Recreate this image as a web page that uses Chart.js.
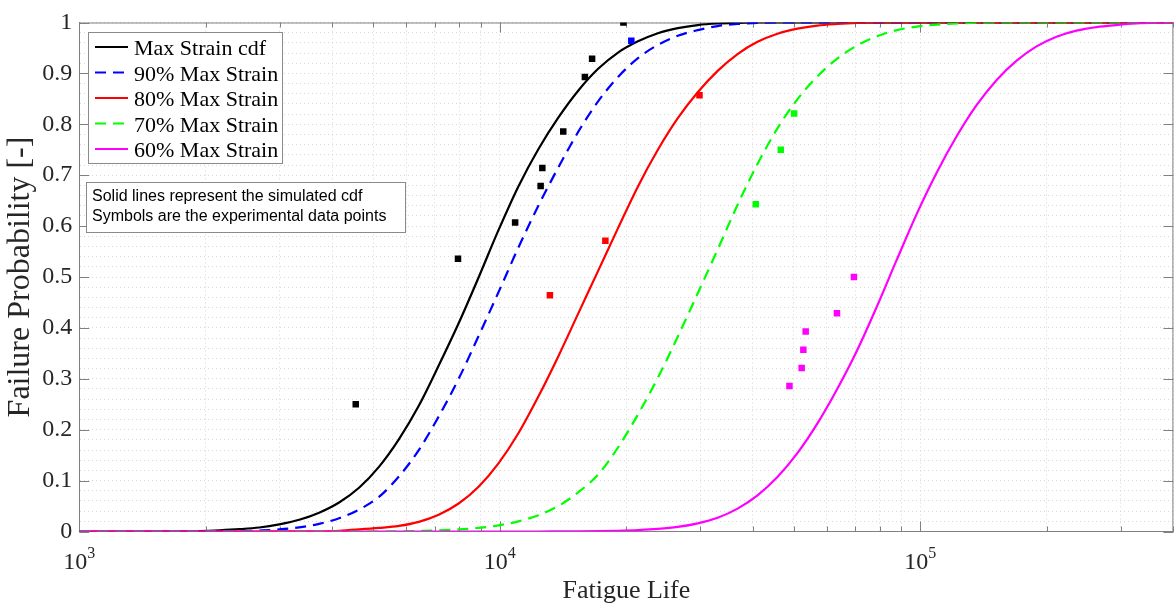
<!DOCTYPE html>
<html>
<head>
<meta charset="utf-8">
<script src="https://cdn.jsdelivr.net/npm/chart.js@4.4.1/dist/chart.umd.min.js"></script>
<style>
  html, body { margin: 0; padding: 0; background: #fff; overflow: hidden; }
  #wrap { width: 1178px; height: 607px; }
</style>
</head>
<body>
<div id="wrap"><canvas id="fatigueCdfChart" width="1178" height="607"></canvas></div>
<script>
// Fatigue life cdf curves + experimental points
const seriesNames = ['Max Strain cdf', '90% Max Strain', '80% Max Strain', '70% Max Strain', '60% Max Strain'];
const seriesColors = ['#000000', '#0000ff', '#ff0000', '#00ff00', '#ff00ff'];
const seriesDashed = [false, true, false, true, false];

// life values where the simulated curves were read
const lifeGrid = [1000,
  1733, 1932, 2155, 2403, 2680, 2990, 3334, 3719, 4148, 4627,
  5160, 5754, 6418, 7158, 7983, 8904, 9929, 11074, 12351, 13775,
  15363, 17135, 19110, 21313, 23770, 26511, 29567, 32976, 36778, 41019,
  45749, 51024, 56909, 63472, 70793, 78958, 88064, 98223, 109550, 122180,
  136270, 151990, 169520, 189070, 210870, 235190, 262320, 292570, 326310, 363940,
  400000];

// simulated cdf, one value per lifeGrid entry
const cdfMax = [0,
  0.0003, 0.0008, 0.0023, 0.0045, 0.0078, 0.014, 0.023, 0.037, 0.057, 0.086,
  0.127, 0.181, 0.247, 0.326, 0.409, 0.499, 0.592, 0.678, 0.751, 0.813,
  0.866, 0.909, 0.941, 0.963, 0.979, 0.989, 0.995, 0.998, 0.9993, 1,
  1, 1, 1, 1, 1, 1, 1, 1, 1, 1,
  1, 1, 1, 1, 1, 1, 1, 1, 1, 1,
  1];
const cdf90 = [0,
  0, 0.0001, 0.0002, 0.0007, 0.002, 0.004, 0.008, 0.015, 0.026, 0.043,
  0.068, 0.108, 0.160, 0.226, 0.300, 0.384, 0.470, 0.558, 0.640, 0.715,
  0.785, 0.845, 0.893, 0.930, 0.956, 0.974, 0.985, 0.993, 0.997, 0.999,
  1, 1, 1, 1, 1, 1, 1, 1, 1, 1,
  1, 1, 1, 1, 1, 1, 1, 1, 1, 1,
  1];
const cdf80 = [0,
  0, 0, 0, 0, 0, 0.0001, 0.0002, 0.0005, 0.0015, 0.004,
  0.007, 0.011, 0.019, 0.033, 0.055, 0.088, 0.134, 0.193, 0.265, 0.344,
  0.428, 0.512, 0.596, 0.678, 0.750, 0.812, 0.863, 0.905, 0.938, 0.962,
  0.978, 0.988, 0.994, 0.997, 0.999, 1, 1, 1, 1, 1,
  1, 1, 1, 1, 1, 1, 1, 1, 1, 1,
  1];
const cdf70 = [0,
  0, 0, 0, 0, 0, 0, 0, 0, 0, 0,
  0, 0.0003, 0.001, 0.002, 0.004, 0.007, 0.012, 0.020, 0.032, 0.050,
  0.077, 0.112, 0.165, 0.230, 0.302, 0.383, 0.468, 0.554, 0.642, 0.722,
  0.792, 0.849, 0.894, 0.929, 0.955, 0.973, 0.985, 0.992, 0.996, 0.998,
  0.9995, 1, 1, 1, 1, 1, 1, 1, 1, 1,
  1];
const cdf60 = [0,
  0, 0, 0, 0, 0, 0, 0, 0, 0, 0,
  0, 0, 0, 0, 0, 0, 0, 0, 0, 0.0002,
  0.0004, 0.0008, 0.0015, 0.0028, 0.005, 0.009, 0.016, 0.027, 0.045, 0.071,
  0.107, 0.154, 0.212, 0.280, 0.356, 0.443, 0.535, 0.625, 0.706, 0.777,
  0.838, 0.887, 0.925, 0.953, 0.972, 0.984, 0.991, 0.995, 0.998, 0.9995,
  1];

// experimental data points
const expLife100 = [4544, 7955, 10877, 12508, 12625, 14157, 15937, 16580, 19680];
const expProb100 = [0.250, 0.536, 0.607, 0.679, 0.714, 0.786, 0.893, 0.929, 1.000];
const expLife90 = [20550];
const expProb90 = [0.964];
const expLife80 = [13160, 17830, 29850];
const expProb80 = [0.464, 0.571, 0.857];
const expLife70 = [40640, 46590, 50120];
const expProb70 = [0.643, 0.750, 0.821];
const expLife60 = [48860, 52240, 52720, 53400, 63380, 69550];
const expProb60 = [0.286, 0.321, 0.357, 0.393, 0.429, 0.500];

// axis ticks
const yTickLabels = ['0', '0.1', '0.2', '0.3', '0.4', '0.5', '0.6', '0.7', '0.8', '0.9', '1'];
const xTickDecades = [1e3, 1e4, 1e5];
const xTickExponents = ['3', '4', '5'];
const noteLines = ['Solid lines represent the simulated cdf', 'Symbols are the experimental data points'];

const serif = '"Liberation Serif", "Times New Roman", serif';
const sans = '"Liberation Sans", Arial, sans-serif';
const axisGray = '#808080';
const gridGray = '#d6d6d6';
const textGray = '#262626';

const toPoints = (xs, ys) => xs.map((v, i) => ({ x: v, y: ys[i] }));

const cdfProb = [cdfMax, cdf90, cdf80, cdf70, cdf60];
const expLife = [expLife100, expLife90, expLife80, expLife70, expLife60];
const expProb = [expProb100, expProb90, expProb80, expProb70, expProb60];

const datasets = [];
seriesNames.forEach((name, i) => {
  datasets.push({
    label: name,
    data: toPoints(lifeGrid, cdfProb[i]),
    showLine: true,
    borderColor: seriesColors[i],
    borderWidth: 2.2,
    borderDash: seriesDashed[i] ? [11, 7] : [],
    pointRadius: 0,
    cubicInterpolationMode: 'monotone',
    order: 20 - i
  });
});
seriesNames.forEach((name, i) => {
  datasets.push({
    label: name + ' data',
    data: toPoints(expLife[i], expProb[i]),
    showLine: false,
    pointStyle: 'rect',
    pointRadius: 4.6,
    pointBorderWidth: 0,
    backgroundColor: seriesColors[i],
    borderColor: seriesColors[i],
    order: 10 - i
  });
});

// grid values: every 1..9 x 10^n inside the range
const xGridValues = [];
for (let d = 1000; d <= 100000; d *= 10) {
  for (let m = 1; m <= 9; m++) {
    if (m * d <= 400000) xGridValues.push(m * d);
  }
}

const matlabFrame = {
  id: 'matlabFrame',
  beforeDatasetsDraw(chart) {
    const { ctx, chartArea: a, scales: { x, y } } = chart;
    ctx.save();
    ctx.strokeStyle = axisGray;
    ctx.lineWidth = 1;
    ctx.beginPath();
    ctx.moveTo(a.left, a.top + 0.5);
    ctx.lineTo(a.right, a.top + 0.5);
    ctx.moveTo(a.right - 0.5, a.top);
    ctx.lineTo(a.right - 0.5, a.bottom);
    // inward tick marks
    x.ticks.forEach(t => {
      const px = Math.round(x.getPixelForValue(t.value)) + 0.5;
      const major = Math.abs(Math.log10(t.value) - Math.round(Math.log10(t.value))) < 1e-9;
      const len = major ? 10 : 5;
      ctx.moveTo(px, a.bottom); ctx.lineTo(px, a.bottom - len);
      ctx.moveTo(px, a.top); ctx.lineTo(px, a.top + len);
    });
    yTickLabels.forEach((_, i) => {
      const py = Math.round(y.getPixelForValue(i / 10)) + 0.5;
      ctx.moveTo(a.left, py); ctx.lineTo(a.left + 10, py);
      ctx.moveTo(a.right, py); ctx.lineTo(a.right - 10, py);
    });
    ctx.stroke();
    ctx.restore();
  },
  afterDraw(chart) {
    const { ctx, chartArea: a, scales: { x } } = chart;
    ctx.save();
    // x tick labels with superscript exponents
    ctx.fillStyle = textGray;
    ctx.textBaseline = 'alphabetic';
    xTickDecades.forEach((v, i) => {
      const px = x.getPixelForValue(v);
      ctx.font = '24px ' + serif;
      const wBase = ctx.measureText('10').width;
      ctx.font = '16px ' + serif;
      const wExp = ctx.measureText(xTickExponents[i]).width;
      const left = px - (wBase + wExp) / 2;
      ctx.font = '24px ' + serif;
      ctx.fillText('10', left, a.bottom + 37);
      ctx.font = '16px ' + serif;
      ctx.fillText(xTickExponents[i], left + wBase, a.bottom + 26);
    });

    // legend box
    const lx = 88, ly = 32, lw = 194, lh = 131;
    ctx.fillStyle = '#ffffff';
    ctx.fillRect(lx, ly, lw, lh);
    ctx.strokeStyle = '#8a8a8a';
    ctx.lineWidth = 1;
    ctx.strokeRect(lx + 0.5, ly + 0.5, lw, lh);
    seriesNames.forEach((name, i) => {
      const rowY = 47 + i * 25.5;
      ctx.strokeStyle = seriesColors[i];
      ctx.lineWidth = 2.2;
      ctx.setLineDash(seriesDashed[i] ? [11, 7] : []);
      ctx.beginPath();
      ctx.moveTo(95, rowY);
      ctx.lineTo(128, rowY);
      ctx.stroke();
      ctx.setLineDash([]);
      ctx.fillStyle = '#000000';
      ctx.font = '22px ' + serif;
      ctx.fillText(name, 134, rowY + 8);
    });

    // note box
    const nx = 86, ny = 182, nw = 319, nh = 50;
    ctx.fillStyle = '#ffffff';
    ctx.fillRect(nx, ny, nw, nh);
    ctx.strokeStyle = '#8a8a8a';
    ctx.lineWidth = 1;
    ctx.strokeRect(nx + 0.5, ny + 0.5, nw, nh);
    ctx.fillStyle = '#000000';
    ctx.font = '16px ' + sans;
    noteLines.forEach((line, i) => ctx.fillText(line, 92, 201 + i * 20));
    ctx.restore();
  }
};

new Chart(document.getElementById('fatigueCdfChart'), {
  type: 'scatter',
  data: { datasets },
  options: {
    responsive: false,
    animation: false,
    events: [],
    layout: { padding: { top: 22.5, right: 1, left: 0, bottom: 0 } },
    plugins: { legend: { display: false }, tooltip: { enabled: false } },
    scales: {
      x: {
        type: 'logarithmic',
        min: 1000,
        max: 400000,
        afterBuildTicks: s => { s.ticks = xGridValues.map(v => ({ value: v })); },
        afterFit: s => { s.height = 75.5; },
        ticks: { display: false },
        grid: { color: gridGray, lineWidth: 1, drawTicks: false },
        border: { display: true, color: axisGray, width: 1, dash: [1, 3] },
        title: { display: true, text: 'Fatigue Life', color: textGray, font: { family: serif, size: 26 }, padding: { top: 0, bottom: 0 } }
      },
      y: {
        type: 'linear',
        min: 0,
        max: 1,
        afterBuildTicks: s => { s.ticks = Array.from({ length: 51 }, (_, i) => ({ value: i / 50 })); },
        afterFit: s => { s.width = 79.3; },
        ticks: {
          autoSkip: false,
          padding: 7,
          color: textGray,
          font: { family: serif, size: 24 },
          callback: (v, i) => (i % 5 === 0 ? yTickLabels[i / 5] : '')
        },
        grid: { color: gridGray, lineWidth: 1, drawTicks: false },
        border: { display: true, color: axisGray, width: 1, dash: [1, 3] },
        title: { display: true, text: 'Failure Probability [-]', color: textGray, font: { family: serif, size: 32 }, padding: { top: 1, bottom: 0 } }
      }
    }
  },
  plugins: [matlabFrame]
});
</script>
</body>
</html>
